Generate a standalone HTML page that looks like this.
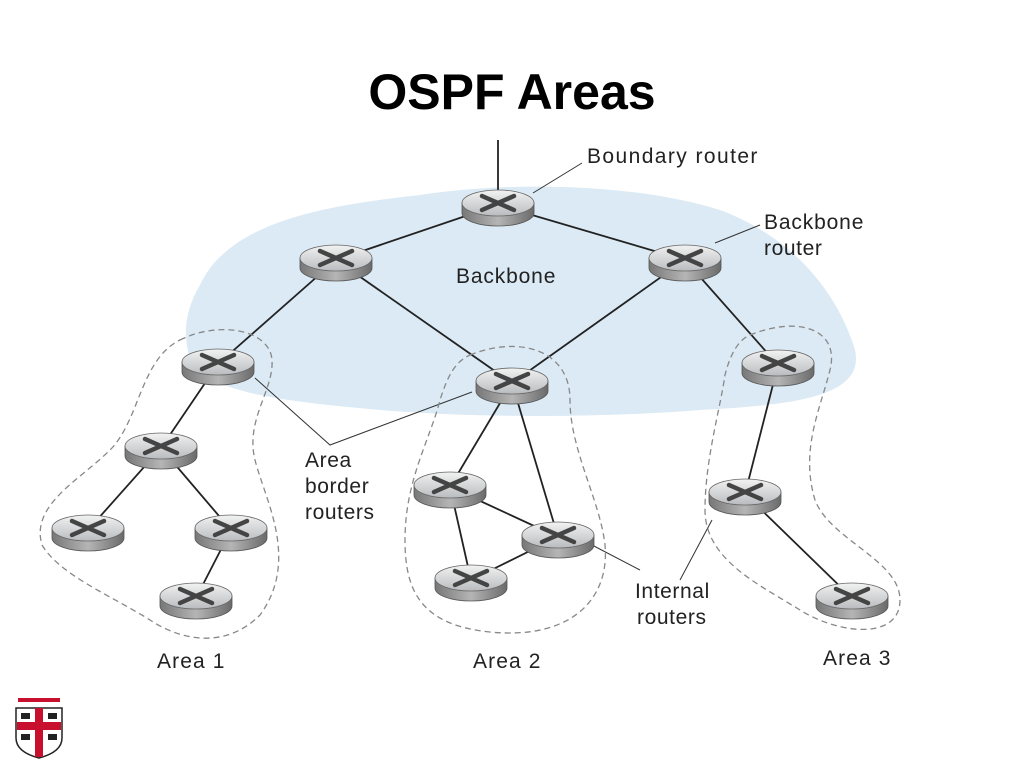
<!DOCTYPE html>
<html><head><style>
body{margin:0;background:#fff;}
svg{display:block;font-family:"Liberation Sans",sans-serif;}
</style></head><body>
<svg width="1024" height="768" viewBox="0 0 1024 768">
<defs>
<linearGradient id="tg" x1="0" y1="0" x2="0" y2="1"><stop offset="0" stop-color="#f2f2f2"/><stop offset="1" stop-color="#b9bcbf"/></linearGradient>
<linearGradient id="sg" x1="0" y1="0" x2="1" y2="0"><stop offset="0" stop-color="#777"/><stop offset="0.5" stop-color="#b5b5b5"/><stop offset="1" stop-color="#6a6a6a"/></linearGradient>
<g id="r">
<path d="M-36,0 L-36,10 A36,13 0 0 0 36,10 L36,0 Z" fill="url(#sg)" stroke="#555" stroke-width="0.8"/>
<ellipse cx="0" cy="0" rx="36" ry="13" fill="url(#tg)" stroke="#666" stroke-width="0.8"/>
<path d="M-16,-7 L16,7 M-16,7 L16,-7" stroke="#444" stroke-width="4.5" stroke-linecap="round"/>
</g>
</defs>
<text x="512" y="109" text-anchor="middle" font-size="50" font-weight="bold">OSPF Areas</text>
<path d="M200,285 C230,220 330,205 420,195 C520,180 640,185 720,210 C800,240 840,300 855,350 C865,395 800,405 700,410 C600,418 480,418 380,410 C290,402 230,395 195,370 C180,340 185,310 200,285 Z" fill="#dbeaf4"/>
<g stroke="#222" stroke-width="1.8" fill="none">
<line x1="498" y1="140" x2="498" y2="200"/>
<line x1="498" y1="205" x2="336" y2="260"/><line x1="498" y1="205" x2="685" y2="260"/>
<line x1="336" y1="260" x2="218" y2="364"/><line x1="336" y1="260" x2="512" y2="383"/>
<line x1="685" y1="260" x2="512" y2="383"/><line x1="685" y1="260" x2="778" y2="365"/>
<line x1="218" y1="364" x2="161" y2="448"/><line x1="161" y1="448" x2="88" y2="530"/><line x1="161" y1="448" x2="231" y2="530"/><line x1="231" y1="530" x2="196" y2="598"/>
<line x1="512" y1="383" x2="450" y2="487"/><line x1="512" y1="383" x2="558" y2="537"/><line x1="450" y1="487" x2="558" y2="537"/><line x1="450" y1="487" x2="471" y2="580"/><line x1="558" y1="537" x2="471" y2="580"/>
<line x1="778" y1="365" x2="745" y2="494"/><line x1="745" y1="494" x2="852" y2="598"/>
</g>
<g stroke="#333" stroke-width="1" fill="none">
<line x1="533" y1="193" x2="582" y2="163"/><line x1="715" y1="243" x2="760" y2="225"/>
<polyline points="255,378 330,445 472,392"/>
<polyline points="592,545 640,570"/><polyline points="712,520 680,580"/>
</g>
<g stroke="#888" stroke-width="1.3" fill="none" stroke-dasharray="6,4">
<path d="M180,340 C220,320 270,330 272,360 C274,390 245,420 255,460 C265,500 300,560 260,615 C225,650 180,640 150,620 C110,595 60,575 42,545 C30,505 80,480 110,450 C140,420 140,360 180,340 Z"/>
<path d="M470,355 C520,335 570,350 570,400 C570,450 600,500 605,545 C610,600 570,640 490,632 C420,625 405,590 405,540 C405,480 430,440 440,400 C448,375 455,362 470,355 Z"/>
<path d="M750,335 C800,315 840,330 830,370 C820,410 800,450 815,500 C830,540 900,560 900,600 C900,640 840,635 800,610 C760,585 705,560 705,510 C705,460 720,410 725,375 C730,355 738,340 750,335 Z"/>
</g>
<use href="#r" x="498" y="203"/><use href="#r" x="336" y="258"/><use href="#r" x="685" y="258"/>
<use href="#r" x="218" y="362"/><use href="#r" x="512" y="381"/><use href="#r" x="778" y="363"/>
<use href="#r" x="161" y="446"/><use href="#r" x="88" y="528"/><use href="#r" x="231" y="528"/><use href="#r" x="196" y="596"/>
<use href="#r" x="450" y="485"/><use href="#r" x="558" y="535"/><use href="#r" x="471" y="578"/>
<use href="#r" x="745" y="492"/><use href="#r" x="852" y="596"/>
<g font-size="21" fill="#222" letter-spacing="0.6">
<text x="587" y="163" textLength="171">Boundary router</text>
<text x="764" y="229" textLength="100">Backbone</text><text x="764" y="255">router</text>
<text x="456" y="283" textLength="100">Backbone</text>
<text x="305" y="467">Area</text><text x="305" y="493">border</text><text x="305" y="519">routers</text>
<text x="635" y="598">Internal</text><text x="637" y="624">routers</text>
<text x="157" y="668" textLength="68">Area 1</text><text x="473" y="668" textLength="68">Area 2</text><text x="823" y="665" textLength="68">Area 3</text>
</g>
<g>
<path d="M18,698 h42 v4 h-42 z" fill="#c8102e"/>
<path d="M16,708 h46 v30 q0,14 -23,20 q-23,-6 -23,-20 z" fill="#fff" stroke="#222" stroke-width="1.5"/>
<rect x="35" y="708" width="8" height="49" fill="#c8102e"/><rect x="17" y="722" width="44" height="8" fill="#c8102e"/>
<rect x="21" y="713" width="9" height="6" fill="#222"/><rect x="48" y="713" width="9" height="6" fill="#222"/>
<rect x="21" y="734" width="9" height="6" fill="#222"/><rect x="48" y="734" width="9" height="6" fill="#222"/>
</g>
</svg>
</body></html>
